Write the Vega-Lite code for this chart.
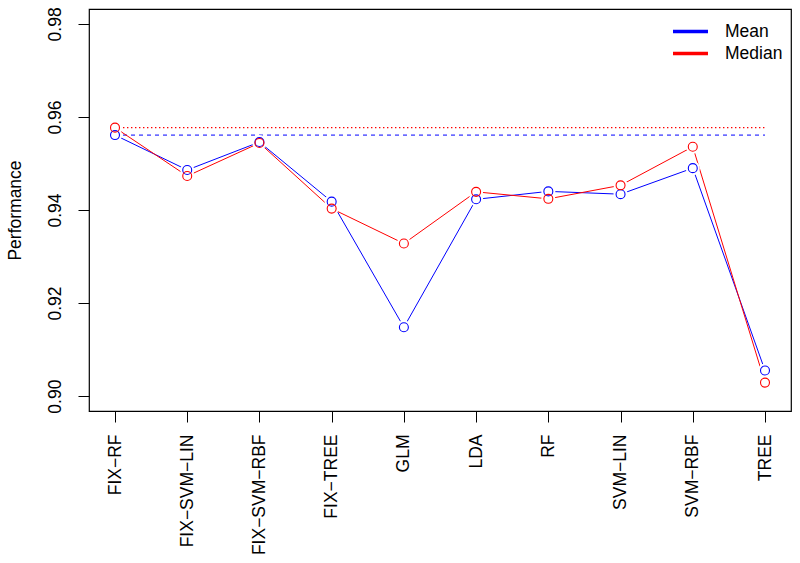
{
  "$schema": "https://vega.github.io/schema/vega-lite/v6.json",
  "width": 702,
  "height": 402,
  "autosize": "none",
  "padding": {"left": 89, "top": 9, "right": 9, "bottom": 152},
  "background": "white",
  "config": {
    "font": "Liberation Sans",
    "view": {"stroke": "black", "strokeWidth": 1.2},
    "axis": {
      "domain": false, "grid": false, "tickColor": "black", "tickWidth": 1,
      "labelColor": "black", "titleColor": "black", "labelFontSize": 17.5,
      "titleFontSize": 17.5, "titleFontWeight": "normal", "tickSize": 11,
      "labelFont": "Liberation Sans", "titleFont": "Liberation Sans"
    },
    "legend": {"labelFont": "Liberation Sans"}
  },
  "datasets": {
    "perf": [
      {"model": "FIX-RF", "stat": "Mean", "value": 0.9561},
      {"model": "FIX-SVM-LIN", "stat": "Mean", "value": 0.9486},
      {"model": "FIX-SVM-RBF", "stat": "Mean", "value": 0.9546},
      {"model": "FIX-TREE", "stat": "Mean", "value": 0.9418},
      {"model": "GLM", "stat": "Mean", "value": 0.9148},
      {"model": "LDA", "stat": "Mean", "value": 0.9423},
      {"model": "RF", "stat": "Mean", "value": 0.9440},
      {"model": "SVM-LIN", "stat": "Mean", "value": 0.9434},
      {"model": "SVM-RBF", "stat": "Mean", "value": 0.9490},
      {"model": "TREE", "stat": "Mean", "value": 0.9055},
      {"model": "FIX-RF", "stat": "Median", "value": 0.9577},
      {"model": "FIX-SVM-LIN", "stat": "Median", "value": 0.9473},
      {"model": "FIX-SVM-RBF", "stat": "Median", "value": 0.9544},
      {"model": "FIX-TREE", "stat": "Median", "value": 0.9403},
      {"model": "GLM", "stat": "Median", "value": 0.9328},
      {"model": "LDA", "stat": "Median", "value": 0.9439},
      {"model": "RF", "stat": "Median", "value": 0.9424},
      {"model": "SVM-LIN", "stat": "Median", "value": 0.9453},
      {"model": "SVM-RBF", "stat": "Median", "value": 0.9536},
      {"model": "TREE", "stat": "Median", "value": 0.9029}
    ],
    "ref": [
      {"stat": "Mean", "value": 0.9561, "from": "FIX-RF", "to": "TREE"},
      {"stat": "Median", "value": 0.9577, "from": "FIX-RF", "to": "TREE"}
    ]
  },
  "encoding": {
    "x": {
      "field": "model", "type": "nominal", "sort": null,
      "scale": {"type": "point", "padding": 0.36,
        "domain": ["FIX-RF", "FIX-SVM-LIN", "FIX-SVM-RBF", "FIX-TREE", "GLM", "LDA", "RF", "SVM-LIN", "SVM-RBF", "TREE"]},
      "axis": {"title": null, "labelAngle": -90, "labelPadding": 12,
        "labelExpr": "replace(datum.label, /-/g, '\u2212')"}
    },
    "y": {
      "field": "value", "type": "quantitative",
      "scale": {"domain": [0.8968, 0.9832], "zero": false, "nice": false},
      "axis": {"values": [0.9, 0.92, 0.94, 0.96, 0.98], "format": ".2f", "labelAngle": -90,
        "labelPadding": 14, "title": "Performance", "titlePadding": 22}
    },
    "color": {
      "field": "stat", "type": "nominal",
      "scale": {"domain": ["Mean", "Median"], "range": ["#0000FF", "#FF0000"]},
      "legend": {"title": null, "orient": "none", "legendX": 591, "legendY": 12,
        "symbolType": "M-2,0H2", "symbolStrokeWidth": 3.5, "symbolSize": 306,
        "labelFontSize": 17.5, "labelOffset": 24, "rowPadding": 3, "labelColor": "black"}
    }
  },
  "layer": [
    {
      "data": {"name": "ref"},
      "transform": [{"filter": "datum.stat === 'Mean'"}],
      "mark": {"type": "rule", "strokeWidth": 1, "strokeDash": [4, 4]},
      "encoding": {
        "x": {"field": "from", "type": "nominal"},
        "x2": {"field": "to"},
        "color": {"value": "#0000FF"}
      }
    },
    {
      "data": {"name": "ref"},
      "transform": [{"filter": "datum.stat === 'Median'"}],
      "mark": {"type": "rule", "strokeWidth": 1.2, "strokeDash": [1.4, 2.6], "strokeCap": "butt"},
      "encoding": {
        "x": {"field": "from", "type": "nominal"},
        "x2": {"field": "to"},
        "color": {"value": "#FF0000"}
      }
    },
    {
      "data": {"name": "perf"},
      "mark": {"type": "line", "strokeWidth": 1}
    },
    {
      "data": {"name": "perf"},
      "mark": {"type": "point", "shape": "circle", "filled": true, "fill": "white", "stroke": null, "strokeWidth": 0, "size": 200, "opacity": 1},
      "encoding": {"color": {"value": "white"}}
    },
    {
      "data": {"name": "perf"},
      "mark": {"type": "point", "shape": "circle", "filled": false, "size": 80, "strokeWidth": 1.1, "opacity": 1}
    }
  ]
}
